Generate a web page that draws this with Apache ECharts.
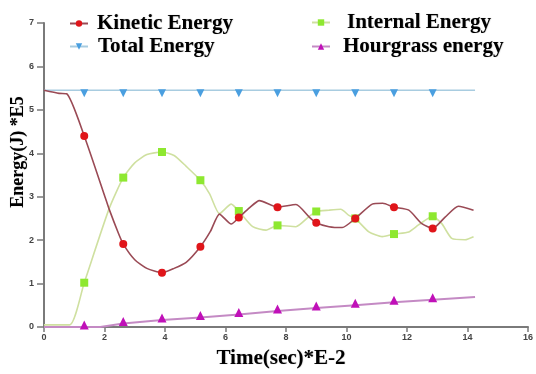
<!DOCTYPE html>
<html>
<head>
<meta charset="utf-8">
<script src="https://cdn.jsdelivr.net/npm/echarts@6/dist/echarts.min.js"></script>
<style>
  html, body { margin: 0; padding: 0; background: #fff; }
  #chart { width: 536px; height: 374px; }
</style>
</head>
<body>
<div id="chart"></div>
<script>
// positions of the markers along time (same for every series)
var markerX = [1.33, 2.62, 3.9, 5.17, 6.44, 7.72, 9.0, 10.29, 11.57, 12.85];

var kineticX = [0, 0.5, 0.75, 1.33, 2.02, 2.15, 2.46, 2.62, 3.0, 3.4, 3.9, 4.3, 4.7, 5.17, 5.5, 5.8, 6.19, 6.44, 6.8, 7.12, 7.72, 8.33, 8.77, 9.0, 9.42, 9.86, 10.29, 10.85, 11.2, 11.57, 12.06, 12.49, 12.85, 13.26, 13.7, 14.2];
var kineticY = [5.45, 5.38, 5.37, 4.40, 2.99, 2.72, 2.16, 1.91, 1.55, 1.35, 1.25, 1.35, 1.49, 1.85, 2.2, 2.6, 2.37, 2.52, 2.75, 2.91, 2.76, 2.82, 2.53, 2.40, 2.31, 2.29, 2.50, 2.83, 2.85, 2.76, 2.69, 2.38, 2.27, 2.53, 2.78, 2.69];

var internalX = [0, 0.85, 1.33, 2.15, 2.62, 3.0, 3.4, 3.9, 4.3, 4.7, 5.17, 5.48, 5.8, 6.19, 6.44, 6.9, 7.34, 7.72, 8.33, 8.74, 9.0, 9.42, 9.81, 10.08, 10.29, 10.74, 11.18, 11.57, 12.06, 12.38, 12.85, 13.15, 13.48, 13.92, 14.2];
var internalY = [0.05, 0.05, 1.02, 2.72, 3.44, 3.78, 3.97, 4.03, 3.95, 3.7, 3.38, 3.06, 2.61, 2.83, 2.67, 2.31, 2.23, 2.34, 2.31, 2.53, 2.66, 2.69, 2.71, 2.57, 2.50, 2.19, 2.08, 2.14, 2.19, 2.35, 2.55, 2.38, 2.04, 2.01, 2.08];

var totalX = [0, 1.33, 2.62, 3.9, 5.17, 6.44, 7.72, 9.0, 10.29, 11.57, 12.85, 14.25];
var totalY = [5.45, 5.45, 5.45, 5.45, 5.45, 5.45, 5.45, 5.45, 5.45, 5.45, 5.45, 5.45];

var hourglassX = [0, 1.33, 1.86, 2.62, 3.9, 5.17, 6.44, 7.72, 9.0, 10.29, 11.57, 12.85, 14.25];
var hourglassY = [0, 0, 0, 0.08, 0.16, 0.22, 0.29, 0.37, 0.44, 0.50, 0.57, 0.63, 0.69];

var xTicks = ["0", "2", "4", "6", "8", "10", "12", "14", "16"];
var yTicks = ["0", "1", "2", "3", "4", "5", "6", "7"];

function pairs(xs, ys) {
  return xs.map(function (x, i) { return [x, ys[i]]; });
}

function markSize(size) {
  return function (v) {
    return markerX.indexOf(v[0]) >= 0 ? size : 0;
  };
}

var serifFont = "'Liberation Serif', 'Times New Roman', serif";

function legendAt(name, left, top, padLeft) {
  return {
    data: [name],
    left: left,
    top: top,
    selectedMode: false,
    itemWidth: 18,
    itemHeight: 8,
    textStyle: {
      fontFamily: serifFont,
      fontWeight: "bold",
      fontSize: 21,
      color: "#000",
      padding: [0, 0, 0, padLeft],
      textShadowColor: "rgba(0,0,0,0.3)",
      textShadowBlur: 1,
      textShadowOffsetX: 0.5,
      textShadowOffsetY: 0.5,
    },
  };
}

var myChart = echarts.init(document.getElementById("chart"), null, { renderer: "canvas" });

var option = {
  animation: false,
  grid: {
    left: 44,
    right: 6,
    top: 23,
    bottom: 42,
  },
  legend: [
    legendAt("Kinetic Energy", 64, 8, 4),
    legendAt("Total Energy", 64, 31, 5),
    legendAt("Internal Energy", 306, 7, 12),
    legendAt("Hourgrass energy", 306, 31, 8),
  ],
  xAxis: {
    type: "value",
    min: 0,
    max: 16,
    interval: 2,
    name: "Time(sec)*E-2",
    nameLocation: "middle",
    nameGap: 21,
    nameTextStyle: {
      fontFamily: serifFont,
      fontWeight: "bold",
      fontSize: 21,
      color: "#000",
      padding: [0, 10, 0, 0],
      textShadowColor: "rgba(0,0,0,0.3)",
      textShadowBlur: 1,
      textShadowOffsetX: 0.5,
      textShadowOffsetY: 0.5,
    },
    axisLine: { lineStyle: { color: "#7a7a7a", width: 2 } },
    axisTick: { show: true, length: 5, lineStyle: { color: "#7a7a7a", width: 1.5 } },
    axisLabel: {
      color: "#444",
      fontSize: 9,
      fontWeight: "bold",
      fontFamily: "Arial, 'Liberation Sans', sans-serif",
      margin: 6,
      formatter: function (v) { return xTicks[v / 2]; },
    },
    splitLine: { show: false },
  },
  yAxis: {
    type: "value",
    min: 0,
    max: 7,
    interval: 1,
    axisLine: { show: true, lineStyle: { color: "#7a7a7a", width: 2 } },
    axisTick: { show: true, length: 7, lineStyle: { color: "#7a7a7a", width: 1.5 } },
    axisLabel: {
      color: "#444",
      fontSize: 9,
      fontWeight: "bold",
      fontFamily: "Arial, 'Liberation Sans', sans-serif",
      margin: 10,
      formatter: function (v) { return yTicks[v]; },
    },
    splitLine: { show: false },
  },
  graphic: [
    {
      type: "text",
      x: 18,
      y: 152,
      rotation: Math.PI / 2,
      style: {
        text: "Energy(J) *E5",
        fontFamily: serifFont,
        fontWeight: "bold",
        fontSize: 18,
        fill: "#000",
        align: "center",
        verticalAlign: "middle",
        textShadowColor: "rgba(0,0,0,0.3)",
        textShadowBlur: 1,
      },
    },
  ],
  series: [
    {
      name: "Kinetic Energy",
      type: "line",
      smooth: 0.2,
      showAllSymbol: true,
      symbol: "circle",
      symbolSize: markSize(8),
      data: pairs(kineticX, kineticY),
      lineStyle: { color: "#9a4a55", width: 1.6 },
      itemStyle: { color: "#e0151a" },
      z: 4,
    },
    {
      name: "Internal Energy",
      type: "line",
      smooth: 0.2,
      showAllSymbol: true,
      symbol: "rect",
      symbolSize: markSize(8),
      data: pairs(internalX, internalY),
      lineStyle: { color: "#cfe0a0", width: 1.6 },
      itemStyle: { color: "#8ee830" },
      z: 3,
    },
    {
      name: "Total Energy",
      type: "line",
      showAllSymbol: true,
      symbol: "triangle",
      symbolRotate: 180,
      symbolOffset: [0, 3],
      symbolSize: markSize(8),
      data: pairs(totalX, totalY),
      lineStyle: { color: "#a8cce0", width: 1.6 },
      itemStyle: { color: "#4a9fe0" },
      z: 2,
    },
    {
      name: "Hourgrass energy",
      type: "line",
      showAllSymbol: true,
      symbol: "triangle",
      symbolOffset: [0, -2],
      symbolSize: markSize(9),
      data: pairs(hourglassX, hourglassY),
      lineStyle: { color: "#c48ac4", width: 2 },
      itemStyle: { color: "#c010b8" },
      z: 5,
    },
  ],
};

myChart.setOption(option);
</script>
</body>
</html>
